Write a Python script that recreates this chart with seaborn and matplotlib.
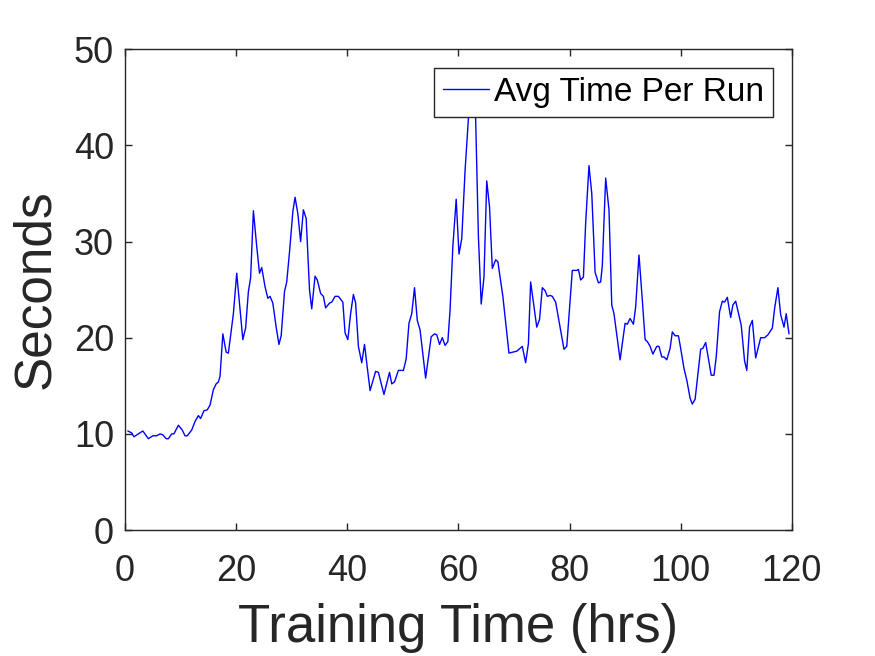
import matplotlib
matplotlib.use("Agg")
import matplotlib.pyplot as plt
import seaborn as sns
import pandas as pd

hours = [0.5, 1.2, 1.6, 3.2, 4.2, 5.0, 5.7, 6.3, 6.8, 7.4, 7.8, 8.4, 8.8, 9.6, 10.3, 10.8, 11.2,
         12.0, 12.6, 13.2, 13.6, 14.2, 14.8, 15.3, 15.9, 16.4, 16.8, 17.1, 17.6, 18.2, 18.6, 19.5,
         20.1, 21.2, 21.7, 22.2, 22.6, 23.1, 23.7, 24.2, 24.6, 25.2, 25.7, 26.1, 26.6, 27.2, 27.7,
         28.1, 28.7, 29.1, 29.6, 30.2, 30.6, 31.1, 31.6, 32.1, 32.6, 33.2, 33.6, 34.2, 34.6, 35.2,
         35.7, 36.1, 36.8, 37.2, 37.8, 38.4, 39.2, 39.6, 40.1, 40.6, 41.1, 41.5, 42.0, 42.6, 43.1,
         44.1, 45.1, 45.6, 46.6, 47.6, 48.0, 48.5, 49.2, 50.1, 50.6, 51.1, 51.6, 52.1, 52.6, 53.1,
         54.1, 55.1, 55.7, 56.1, 56.6, 57.1, 57.6, 58.1, 58.5, 59.0, 59.6, 60.1, 60.6, 61.2, 61.8,
         62.4, 63.1, 63.6, 64.1, 64.6, 65.1, 65.6, 66.1, 66.7, 67.1, 68.0, 69.1, 70.5, 71.5, 72.1,
         72.6, 73.0, 74.1, 74.6, 75.1, 75.6, 76.0, 76.5, 76.9, 77.5, 79.0, 79.5, 80.5, 81.3, 81.6,
         82.0, 82.5, 82.9, 83.5, 84.0, 84.6, 85.2, 85.6, 85.9, 86.5, 87.1, 87.6, 88.0, 89.1, 90.0,
         90.4, 90.9, 91.5, 91.9, 92.5, 93.1, 93.6, 94.0, 94.5, 95.0, 95.7, 96.1, 96.6, 97.0, 97.5,
         98.1, 98.5, 99.0, 99.6, 100.0, 100.6, 101.1, 101.7, 102.1, 102.6, 103.6, 104.0, 104.5,
         105.5, 106.0, 106.4, 107.0, 107.5, 107.9, 108.4, 109.0, 109.4, 109.9, 110.9, 111.5, 111.9,
         112.4, 112.9, 113.5, 114.4, 115.1, 115.7, 116.5, 116.9, 117.5, 118.0, 118.6, 119.0, 119.5]

seconds = [10.3, 10.1, 9.7, 10.3, 9.5, 9.8, 9.8, 10.0, 9.9, 9.5, 9.5, 10.0, 10.0, 10.9, 10.4, 9.8, 9.8,
           10.4, 11.3, 11.9, 11.6, 12.4, 12.5, 13.0, 14.6, 15.2, 15.4, 16.0, 20.4, 18.5, 18.4, 22.5,
           26.7, 19.8, 21.0, 24.8, 26.2, 33.2, 29.5, 26.7, 27.3, 25.3, 24.1, 24.3, 23.6, 21.1, 19.3,
           20.2, 24.8, 25.8, 28.9, 33.1, 34.6, 32.9, 30.0, 33.3, 32.4, 25.0, 23.0, 26.4, 26.0, 24.6,
           24.3, 23.1, 23.6, 23.7, 24.3, 24.3, 23.7, 20.5, 19.8, 22.5, 24.5, 23.6, 19.1, 17.4, 19.3,
           14.5, 16.5, 16.4, 14.1, 16.4, 15.2, 15.4, 16.6, 16.6, 17.8, 21.5, 22.5, 25.2, 21.8, 20.8,
           15.8, 20.1, 20.4, 20.3, 19.3, 20.0, 19.2, 19.6, 22.9, 29.5, 34.4, 28.7, 30.3, 37.4, 42.8,
           47.0, 42.8, 30.5, 23.5, 26.3, 36.3, 33.6, 27.2, 28.1, 27.9, 24.3, 18.4, 18.6, 19.1, 17.4,
           19.4, 25.8, 21.1, 21.9, 25.2, 24.9, 24.3, 24.4, 24.3, 23.7, 18.8, 19.1, 27.0, 27.0, 27.1,
           26.0, 26.3, 31.9, 37.9, 35.0, 26.8, 25.7, 25.8, 27.5, 36.6, 33.3, 23.4, 22.5, 17.7, 21.5,
           21.4, 22.0, 21.4, 23.2, 28.6, 23.9, 19.8, 19.6, 19.1, 18.3, 19.1, 19.1, 18.0, 18.0, 17.7,
           18.9, 20.6, 20.2, 20.2, 18.9, 16.8, 15.6, 13.7, 13.1, 13.6, 18.8, 18.9, 19.5,
           16.1, 16.1, 18.0, 22.7, 23.8, 23.7, 24.2, 22.1, 23.4, 23.8, 21.3, 17.6, 16.6,
           21.1, 21.8, 17.9, 20.0, 20.0, 20.3, 21.0, 23.0, 25.2, 22.4, 21.1, 22.5, 20.4]

x_ticks = [0, 20, 40, 60, 80, 100, 120]
y_ticks = [0, 10, 20, 30, 40, 50]
series_label = "Avg Time Per Run"
x_label = "Training Time (hrs)"
y_label = "Seconds"

df = pd.DataFrame({"hours": hours, "seconds": seconds})

sns.set_theme(style="white")
plt.rcParams["font.family"] = ["Liberation Sans", "DejaVu Sans"]

fig = plt.figure(figsize=(8.75, 6.56), dpi=100)
ax = fig.add_axes([0.1429, 0.192, 0.762, 0.733])

sns.lineplot(data=df, x="hours", y="seconds", ax=ax, color="#0000FF",
             linewidth=1.0, label=series_label, sort=False)

ax.set_xlim(0, 120)
ax.set_ylim(0, 50)
ax.set_xticks(x_ticks)
ax.set_yticks(y_ticks)
ax.tick_params(axis="both", direction="in", length=5, width=1.0, color="#262626",
               labelsize=26, labelcolor="#262626", top=True, right=True,
               bottom=True, left=True)
ax.tick_params(axis="x", pad=17)
ax.tick_params(axis="y", pad=8)
for sp in ax.spines.values():
    sp.set_color("#262626")
    sp.set_linewidth(1.0)

ax.set_xlabel(x_label, fontsize=38, color="#262626", labelpad=10)
ax.set_ylabel(y_label, fontsize=37, color="#262626", labelpad=10)

leg = ax.legend(loc="upper right", fontsize=24, frameon=True, fancybox=False,
                borderaxespad=0.55, handlelength=1.4, handletextpad=0.15,
                borderpad=0.27, framealpha=1.0)
leg.get_frame().set_edgecolor("#262626")
leg.get_frame().set_linewidth(1.0)
for t in leg.get_texts():
    t.set_color("black")

fig.savefig("out.png", dpi=100)
